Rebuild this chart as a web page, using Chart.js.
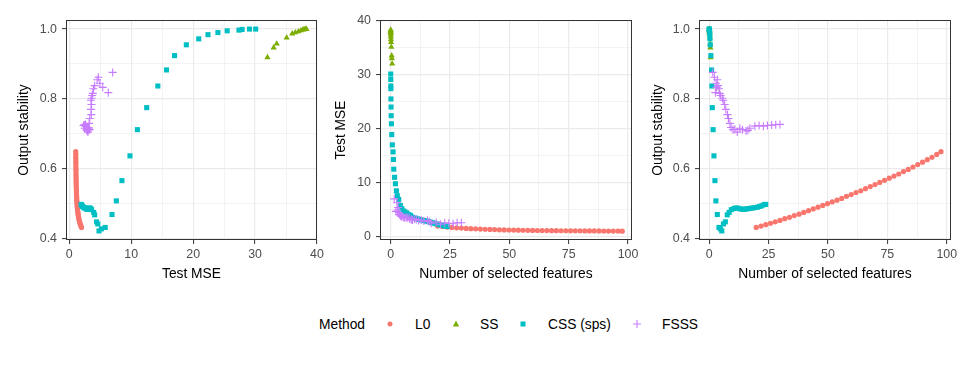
<!DOCTYPE html>
<html>
<head>
<meta charset="utf-8">
<script src="https://cdn.jsdelivr.net/npm/chart.js@4.4.1/dist/chart.umd.min.js"></script>
<style>
  body { margin: 0; background: #fff; }
  #wrap { position: relative; width: 972px; height: 368px; font-family: "Liberation Sans", Arial, sans-serif; }
  canvas { position: absolute; top: 0; }
  #legend { position: absolute; left: 0; top: 300px; }
</style>
</head>
<body>
<div id="wrap">
  <canvas id="p1" width="330" height="290" style="left:0px"></canvas>
  <canvas id="p2" width="330" height="290" style="left:320px"></canvas>
  <canvas id="p3" width="332" height="290" style="left:640px"></canvas>
  <svg id="legend" width="972" height="50" font-family="Liberation Sans, Arial, sans-serif" font-size="13.8">
    <text x="319" y="29">Method</text>
    <circle cx="390" cy="24" r="2.5" fill="#F8766D"></circle>
    <text x="415" y="29">L0</text>
    <polygon points="456,20.5 459.2,26.5 452.8,26.5" fill="#7CAE00"></polygon>
    <text x="480" y="29">SS</text>
    <rect x="520.5" y="21.5" width="5" height="5" fill="#00BFC4"></rect>
    <text x="548" y="29">CSS (sps)</text>
    <path d="M633 24 H641 M637 20 V28" stroke="#C77CFF" stroke-width="1.1"></path>
    <text x="662" y="29">FSSS</text>
  </svg>
</div>
<script>
// tick labels
const mseTicks = [0, 10, 20, 30, 40];
const featTicks = [0, 25, 50, 75, 100];
const stabTicks = [0.4, 0.6, 0.8, 1.0];

// L0
const l0Feat = [19.8, 21.8, 23.8, 25.8, 27.8, 29.8, 31.8, 33.8, 35.8, 37.8, 39.8, 41.8, 43.8, 45.8, 47.8, 49.8, 51.8, 53.8, 55.8, 57.8,
  59.8, 61.8, 63.8, 65.8, 67.8, 69.8, 71.8, 73.8, 75.8, 77.8, 79.8, 81.8, 83.8, 85.8, 87.8, 89.8, 91.8, 93.8, 95.8, 97.6];
const l0Mse = [1.98, 1.88, 1.80, 1.73, 1.66, 1.60, 1.55, 1.50, 1.46, 1.42, 1.39, 1.35, 1.32, 1.29, 1.27, 1.25, 1.23, 1.21, 1.20, 1.19,
  1.17, 1.16, 1.15, 1.14, 1.13, 1.12, 1.11, 1.11, 1.10, 1.09, 1.09, 1.08, 1.08, 1.07, 1.07, 1.06, 1.06, 1.05, 1.05, 1.04];
const l0Stab = [0.432, 0.436, 0.440, 0.444, 0.448, 0.452, 0.457, 0.461, 0.466, 0.470, 0.475, 0.480, 0.485, 0.490, 0.495, 0.500, 0.505, 0.510, 0.515, 0.521,
  0.526, 0.532, 0.537, 0.543, 0.549, 0.555, 0.561, 0.567, 0.573, 0.579, 0.585, 0.592, 0.598, 0.605, 0.612, 0.619, 0.626, 0.633, 0.641, 0.649];

// SS
const ssFeat = [0.0, 0.01, 0.02, 0.04, 0.06, 0.09, 0.13, 0.17, 0.27, 0.42, 0.48, 0.62];
const ssMse = [38.3, 38.1, 37.9, 37.7, 37.4, 37.0, 36.5, 36.0, 35.1, 33.5, 33.0, 32.0];
const ssStab = [1.0, 1.0, 0.999, 0.998, 0.996, 0.993, 0.990, 0.987, 0.975, 0.958, 0.947, 0.919];

// CSS (sps)
const cssFeat = [0.02, 0.04, 0.06, 0.08, 0.12, 0.16, 0.22, 0.30, 0.45, 0.70, 1.00, 1.15, 1.30, 1.65, 2.00, 2.40, 2.80, 3.40, 4.10, 4.70,
  5.30, 6.00, 6.80, 7.60, 8.40, 9.30, 10.4, 11.3, 12.2, 13.1, 14.0, 14.9, 15.8, 16.7, 17.6, 18.5, 19.4, 20.3, 21.2, 22.1, 23.0, 23.8];
const cssMse = [30.1, 29.1, 27.9, 27.4, 25.5, 24.0, 22.4, 20.9, 18.9, 17.0, 15.7, 14.3, 12.5, 11.0, 9.8, 8.5, 7.6, 6.9, 5.8, 5.2,
  4.8, 4.6, 4.4, 4.1, 3.95, 3.6, 3.45, 3.3, 3.2, 3.1, 3.0, 2.9, 2.8, 2.7, 2.6, 2.5, 2.38, 2.26, 2.15, 2.05, 1.97, 1.9];
const cssStab = [1.0, 1.0, 0.999, 0.997, 0.995, 0.990, 0.984, 0.972, 0.955, 0.924, 0.883, 0.837, 0.775, 0.712, 0.637, 0.566, 0.508, 0.469, 0.432, 0.428,
  0.422, 0.442, 0.448, 0.468, 0.475, 0.483, 0.486, 0.488, 0.487, 0.485, 0.484, 0.484, 0.485, 0.486, 0.487, 0.488, 0.489, 0.490, 0.492, 0.494, 0.497, 0.498];

// FSSS
const fsssFeat = [1.5, 2.2, 2.6, 2.9, 3.1, 3.4, 3.7, 4.1, 4.4, 4.8, 5.5, 5.9, 6.5, 7.0, 7.7, 8.1, 8.7, 9.2, 10.0, 10.8,
  11.8, 12.9, 14.0, 15.5, 16.3, 17.1, 19.2, 21.0, 22.8, 24.5, 26.3, 28.0, 29.8];
const fsssMse = [7.0, 4.7, 6.3, 4.95, 5.4, 4.5, 4.1, 3.9, 3.8, 3.7, 3.6, 3.5, 3.6, 3.5, 3.55, 3.3, 3.2, 3.1, 3.3, 3.2,
  3.0, 3.1, 2.9, 3.0, 2.8, 2.5, 2.7, 2.3, 2.6, 2.5, 2.4, 2.6, 2.6];
const fsssStab = [0.876, 0.862, 0.818, 0.845, 0.833, 0.855, 0.838, 0.829, 0.816, 0.810, 0.802, 0.796, 0.784, 0.770, 0.755, 0.744, 0.730, 0.718, 0.712, 0.713,
  0.705, 0.716, 0.712, 0.708, 0.710, 0.716, 0.722, 0.724, 0.722, 0.724, 0.725, 0.726, 0.727];

const pairs = (xs, ys) => xs.map((x, i) => ({ x: x, y: ys[i] }));

function methodSets(l0, ss, css, fsss) {
    return [
        { label: "L0", data: l0, pointStyle: "circle", pointRadius: 2.6, backgroundColor: "#F8766D", borderColor: "#F8766D", borderWidth: 0, order: 4 },
        { label: "SS", data: ss, pointStyle: "triangle", pointRadius: 3.6, backgroundColor: "#7CAE00", borderColor: "#7CAE00", borderWidth: 0, order: 3 },
        { label: "CSS (sps)", data: css, pointStyle: "rect", pointRadius: 3.6, backgroundColor: "#00BFC4", borderColor: "#00BFC4", borderWidth: 0, order: 2 },
        { label: "FSSS", data: fsss, pointStyle: "cross", pointRadius: 4, backgroundColor: "#C77CFF", borderColor: "#C77CFF", borderWidth: 1.1, order: 1 }
    ];
}

// panel border on top of the points, like theme_bw
const panelBorder = {
    id: "panelBorder",
    afterDatasetsDraw(chart) {
        const a = chart.chartArea;
        const ctx = chart.ctx;
        ctx.save();
        ctx.strokeStyle = "#333333";
        ctx.lineWidth = 1;
        ctx.strokeRect(Math.round(a.left) + 0.5, Math.round(a.top) + 0.5, Math.round(a.right - a.left) - 1, Math.round(a.bottom - a.top) - 1);
        ctx.restore();
    }
};

function axis(majors, min, max, title, decimals, isY, size, titlePad) {
    return {
        type: "linear",
        min: min,
        max: max,
        border: { display: false },
        afterBuildTicks(scale) {
            const t = majors.map(v => ({ value: v }));
            for (let i = 0; i < majors.length - 1; i++) {
                t.push({ value: (majors[i] + majors[i + 1]) / 2, minor: true });
            }
            scale.ticks = t.sort((a, b) => a.value - b.value);
        },
        afterFit(scale) {
            if (isY) scale.width = size; else scale.height = size;
        },
        grid: {
            color: "#EBEBEB",
            lineWidth: ctx => (ctx.tick && ctx.tick.minor ? 0.6 : 1.2),
            tickColor: ctx => (ctx.tick && ctx.tick.minor ? "rgba(0,0,0,0)" : "#333333"),
            tickLength: 4,
            tickWidth: 1
        },
        ticks: {
            autoSkip: false,
            maxRotation: 0,
            padding: isY ? 5 : 3,
            color: "#4D4D4D",
            font: { family: "Liberation Sans, Arial, sans-serif", size: 12.4 },
            callback(value, index, ticks) {
                if (ticks[index].minor) return "";
                return value.toFixed(decimals);
            }
        },
        title: {
            display: true,
            text: title,
            color: "#000000",
            font: { family: "Liberation Sans, Arial, sans-serif", size: 13.8 },
            padding: isY ? { top: titlePad, bottom: 0 } : { top: 0, bottom: titlePad }
        }
    };
}

function makePanel(id, datasets, xScale, yScale, padRight) {
    new Chart(document.getElementById(id), {
        type: "scatter",
        data: { datasets: datasets },
        options: {
            responsive: false,
            animation: false,
            events: [],
            layout: { padding: { top: 20, right: padRight, left: 0, bottom: 0 } },
            plugins: { legend: { display: false }, tooltip: { enabled: false } },
            scales: { x: xScale, y: yScale }
        },
        plugins: [panelBorder]
    });
}

makePanel("p1",
    methodSets(pairs(l0Mse, l0Stab), pairs(ssMse, ssStab), pairs(cssMse, cssStab), pairs(fsssMse, fsssStab)),
    axis(mseTicks, -0.53, 40.0, "Test MSE", 0, false, 50, 8),
    axis(stabTicks, 0.396, 1.026, "Output stability", 1, true, 66, 16),
    13);

makePanel("p2",
    methodSets(pairs(l0Feat, l0Mse), pairs(ssFeat, ssMse), pairs(cssFeat, cssMse), pairs(fsssFeat, fsssMse)),
    axis(featTicks, -4.5, 101.7, "Number of selected features", 0, false, 50, 8),
    axis(mseTicks, -0.6, 40.1, "Test MSE", 0, true, 60, 13),
    18);

makePanel("p3",
    methodSets(pairs(l0Feat, l0Stab), pairs(ssFeat, ssStab), pairs(cssFeat, cssStab), pairs(fsssFeat, fsssStab)),
    axis(featTicks, -4.3, 101.8, "Number of selected features", 0, false, 50, 8),
    axis(stabTicks, 0.396, 1.026, "Output stability", 1, true, 59, 10),
    21);
</script>
</body>
</html>
